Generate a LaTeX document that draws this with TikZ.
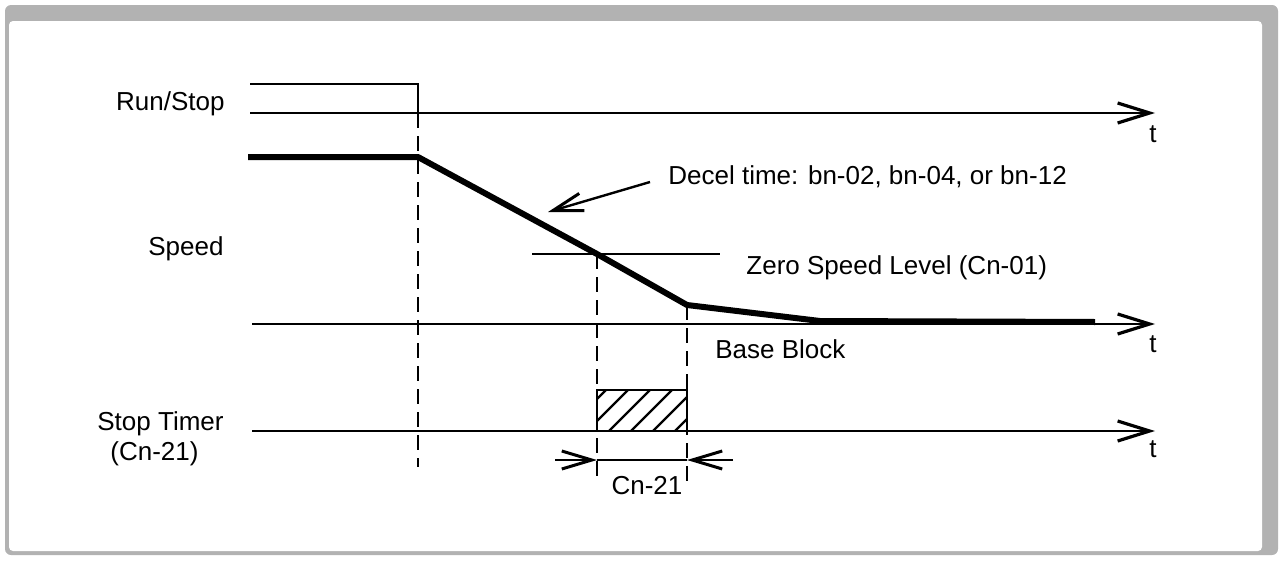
\documentclass[tikz,border=0pt]{standalone}
\usepackage{fontspec}
\setmainfont{Liberation Sans}
\usetikzlibrary{arrows.meta}
\begin{document}
\begin{tikzpicture}[x=0.5pt,y=-0.5pt,
  lbl/.style={font=\fontsize{13}{15.5}\selectfont, inner sep=0pt},
  axisline/.style={line width=1.2pt, -{Straight Barb[length=16pt,width=10pt,line width=1.6pt]}},
  sig/.style={line width=1.2pt},
  spd/.style={line width=3pt, line join=round},
  dashline/.style={line width=1.1pt, dash pattern=on 7.5pt off 4pt},
  dimarrow/.style={line width=1.2pt, -{Straight Barb[length=15pt,width=9pt,line width=1.5pt]}},
  hatch/.style={line width=1.1pt}
]
\useasboundingbox (0,0) rectangle (1280,562);
% frame
\fill[gray!60, rounded corners=3pt] (5,5) rectangle (1278,555);
\fill[white, rounded corners=2pt] (9,21) rectangle (1262,551);

% ---------- Run/Stop ----------
\coordinate (r0) at (250,84);
\coordinate (rfall) at (418,84);
\coordinate (rfallb) at (418,113);
\coordinate (rax0) at (250,113);
\coordinate (rax1) at (1155,113);
\draw[sig] (r0) -- (rfall) -- (rfallb);
\draw[axisline] (rax0) -- (rax1);
\node[lbl, anchor=base east] (runlbl) at (225,110) {Run/Stop};
\node[lbl, anchor=base] (t1) at (1153,142) {t};

% ---------- Speed ----------
\coordinate (s0) at (248,157);
\coordinate (s1) at (418,157);
\coordinate (sz) at (597,254);
\coordinate (sb) at (687,305);
\coordinate (s3) at (820,321);
\coordinate (s4) at (1095,322);
\coordinate (sax0) at (252,324);
\coordinate (sax1) at (1155,324);
\draw[axisline] (sax0) -- (sax1);
\draw[spd] (s0) -- (s1) -- (sz) -- (sb) -- (s3) -- (s4);
\node[lbl, anchor=base west] (speedlbl) at (148,255) {Speed};
\node[lbl, anchor=base] (t2) at (1153,352) {t};
% zero speed level
\coordinate (z0) at (532,254);
\coordinate (z1) at (720,254);
\draw[sig] (z0) -- (z1);
\node[lbl, anchor=base west] (zerolbl) at (746,274) {Zero Speed Level (Cn-01)};
% decel arrow
\node[lbl, anchor=base west] (decellbl) at (668,184) {Decel time: bn-02, bn-04, or bn-12};
\coordinate (da) at (650,182);
\coordinate (db) at (548,212);
\draw[dimarrow] (da) -- (db);
\node[lbl, anchor=base west] (bblbl) at (715,358) {Base Block};

% ---------- Stop Timer ----------
\coordinate (tax0) at (252,431);
\coordinate (tax1) at (1155,431);
\draw[axisline] (tax0) -- (tax1);
\node[lbl, anchor=base west] (stlbl) at (97,430) {Stop Timer};
\node[lbl, anchor=base west] (stlbl2) at (110,460) {(Cn-21)};
\node[lbl, anchor=base] (t3) at (1153,457) {t};
% hatched box
\coordinate (h0) at (597,390);
\coordinate (h1) at (687,431);
\begin{scope}
  \clip (h0) rectangle (h1);
  \foreach \i in {0,...,7}
    \draw[hatch] (560+\i*22,436) -- ++(55,-55);
\end{scope}
\draw[line width=1.2pt] (h0) rectangle (h1);

% dashed verticals
\coordinate (d1a) at (418,113);
\coordinate (d1b) at (418,467);
\coordinate (d2b) at (597,482);
\coordinate (d3b) at (687,482);
\draw[dashline] (d1a) -- (d1b);
\draw[dashline] (sz) -- (d2b);
\draw[dashline] (sb) -- (d3b);

% dimension
\coordinate (m0) at (555,460);
\coordinate (m1) at (597,460);
\coordinate (m2) at (687,460);
\coordinate (m3) at (733,460);
\draw[dimarrow] (m0) -- (m1);
\draw[dimarrow] (m3) -- (m2);
\draw[sig] (m1) -- (m2);
\node[lbl, anchor=base] (cnlbl) at (647,494) {Cn-21};
\end{tikzpicture}
\end{document}
